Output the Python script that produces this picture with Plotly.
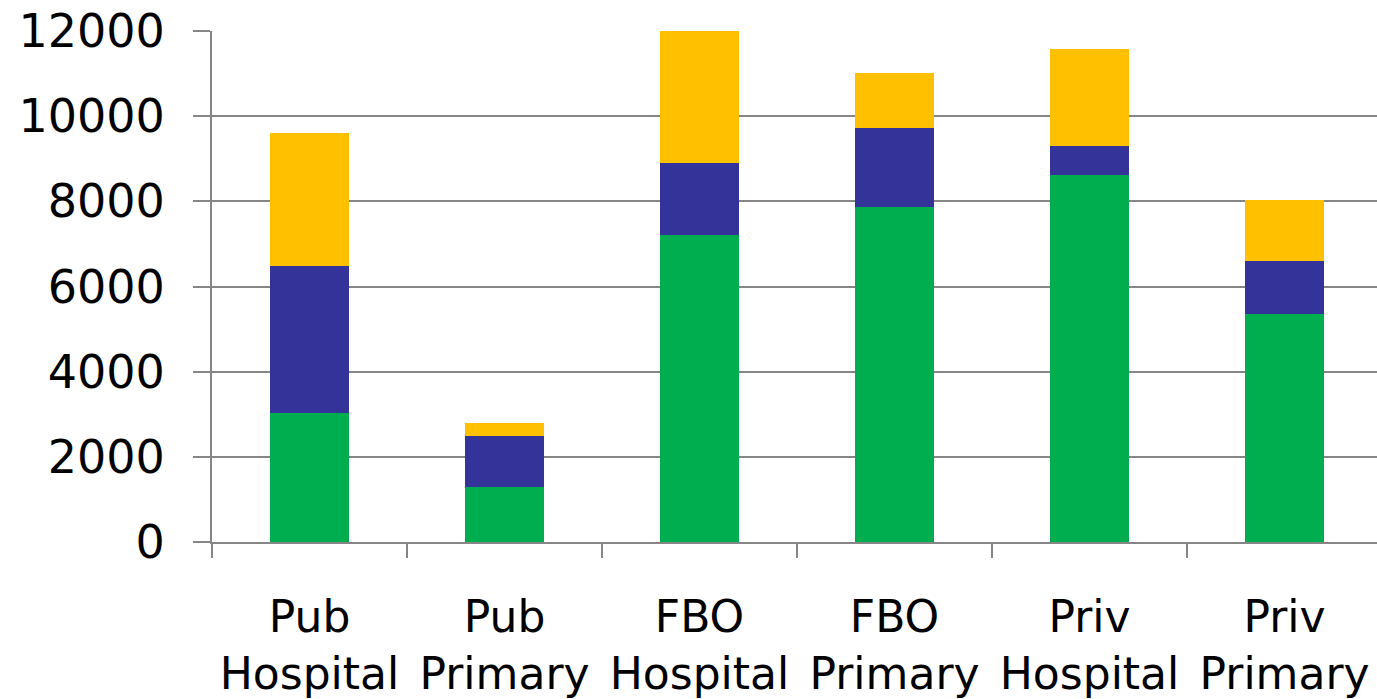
import plotly.graph_objects as go

# Facility categories (two-line tick labels)
categories = ["Pub<br>Hospital", "Pub<br>Primary", "FBO<br>Hospital",
              "FBO<br>Primary", "Priv<br>Hospital", "Priv<br>Primary"]

# Stacked segments, bottom to top
green_values = [3030, 1280, 7210, 7870, 8630, 5360]
blue_values = [3445, 1210, 1680, 1850, 680, 1230]
yellow_values = [3125, 300, 3110, 1290, 2270, 1445]

y_ticks = [0, 2000, 4000, 6000, 8000, 10000, 12000]

GRID = "#868686"
FONT = "DejaVu Sans"

fig = go.Figure()
for vals, color in [(green_values, "#00AE4F"),
                    (blue_values, "#343399"),
                    (yellow_values, "#FFC000")]:
    fig.add_trace(go.Bar(x=categories, y=vals, marker=dict(color=color, line=dict(width=0)),
                         showlegend=False))

fig.update_layout(
    barmode="stack",
    bargap=0.595,
    width=1377,
    height=699,
    margin=dict(l=212, r=0, t=31, b=157),
    plot_bgcolor="white",
    paper_bgcolor="white",
    xaxis=dict(
        type="category",
        range=[-0.5, 5.474],
        tickson="boundaries",
        ticks="outside",
        ticklen=14,
        tickwidth=2,
        tickcolor=GRID,
        showline=True,
        linecolor=GRID,
        linewidth=2,
        showgrid=False,
        tickfont=dict(family=FONT, size=44, color="black"),
        ticklabelstandoff=35,
    ),
    yaxis=dict(
        range=[0, 12000],
        tickvals=y_ticks,
        ticktext=[str(v) for v in y_ticks],
        ticks="outside",
        ticklen=17,
        tickwidth=2,
        tickcolor=GRID,
        showline=True,
        linecolor=GRID,
        linewidth=2,
        showgrid=True,
        gridcolor=GRID,
        gridwidth=2,
        zeroline=False,
        tickfont=dict(family=FONT, size=46, color="black"),
        ticklabelstandoff=19,
    ),
)

fig.write_html("out.html")
